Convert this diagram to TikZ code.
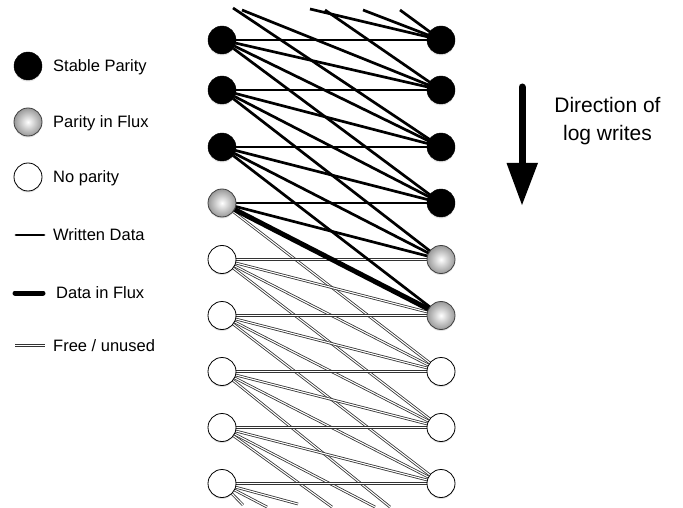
\documentclass[tikz,border=0pt]{standalone}
\usepackage{fontspec}
\setmainfont{Liberation Sans}
\usetikzlibrary{backgrounds,shadows}
\begin{document}
\begin{tikzpicture}[x=1pt,y=-1pt,
  pnode/.style={circle, minimum size=28pt, inner sep=0pt,
    drop shadow={opacity=0.22, shadow xshift=0pt, shadow yshift=-1.5pt}},
  stab/.style={pnode, fill=black, draw=black},
  flux/.style={pnode, draw=black!75, line width=0.8pt, shading=radial,
    inner color=white, outer color=black!40},
  nop/.style={pnode, fill=white, draw=black, line width=0.8pt},
  wdata/.style={line width=2.7pt, draw=black},
  fdata/.style={line width=5pt, draw=black},
  free/.style={draw=black!80, line width=0.8pt, double=white, double distance=1.1pt},
  lab/.style={anchor=west, inner sep=0pt, text height=11.5pt, text depth=0pt,
    font=\fontsize{16.5}{19}\selectfont},
  dirlab/.style={anchor=base, inner sep=0pt, font=\fontsize{21}{25}\selectfont}
]
\useasboundingbox (0,0) rectangle (683,508);

% ---- main columns ----
\node[stab] (L1) at (222,40) {};
\node[stab] (L2) at (222,90) {};
\node[stab] (L3) at (222,147) {};
\node[flux] (L4) at (222,203) {};
\node[nop]  (L5) at (222,259.5) {};
\node[nop]  (L6) at (222,315.5) {};
\node[nop]  (L7) at (222,371.5) {};
\node[nop]  (L8) at (222,427.5) {};
\node[nop]  (L9) at (222,483.5) {};

\node[stab] (R1) at (441,40) {};
\node[stab] (R2) at (441,90) {};
\node[stab] (R3) at (441,147) {};
\node[stab] (R4) at (441,203) {};
\node[flux] (R5) at (441,259.5) {};
\node[flux] (R6) at (441,315.5) {};
\node[nop]  (R7) at (441,371.5) {};
\node[nop]  (R8) at (441,427.5) {};
\node[nop]  (R9) at (441,483.5) {};

% free ends of cut-off connectors
\coordinate (t1) at (310,9);
\coordinate (t2) at (363,10);
\coordinate (t3) at (400,10);
\coordinate (t4) at (242,10);
\coordinate (t5) at (325,10);
\coordinate (t6) at (233,8);
\coordinate (b1) at (390,507);
\coordinate (b2) at (375,507);
\coordinate (b3) at (332,507);
\coordinate (b4) at (298,504);
\coordinate (b5) at (267,507);
\coordinate (b6) at (243,505);

\begin{scope}[on background layer]
  \foreach \a/\b in {L4/R7,
                     L5/R5, L5/R6, L5/R7, L5/R8,
                     L6/R6, L6/R7, L6/R8, L6/R9,
                     L7/R7, L7/R8, L7/R9, L7/b1,
                     L8/R8, L8/R9, L8/b2, L8/b3,
                     L9/R9, L9/b4, L9/b5, L9/b6}
    \draw[free] (\a.center) -- (\b.center);
  \foreach \a/\b in {t1/R1, t2/R1, t3/R1, t4/R2, t5/R2, t6/R3,
                     L1/R1, L1/R2, L1/R3, L1/R4,
                     L2/R2, L2/R3, L2/R4, L2/R5,
                     L3/R3, L3/R4, L3/R5, L3/R6,
                     L4/R4, L4/R5}
    \draw[wdata] (\a.center) -- (\b.center);
  \draw[fdata] (L4.center) -- (R6.center);
\end{scope}

% ---- legend ----
\node[stab] (k1) at (28,66) {};
\node[lab] (k1t) at (53,66) {Stable Parity};
\node[flux] (k2) at (28,122) {};
\node[lab] (k2t) at (53,122) {Parity in Flux};
\node[nop] (k3) at (28,177) {};
\node[lab] (k3t) at (53,177) {No parity};
\coordinate (w1) at (16,235);
\coordinate (w2) at (44,235);
\draw[wdata, line cap=round] (w1) -- (w2);
\node[lab] (k4t) at (53,235) {Written Data};
\coordinate (f1) at (15,293);
\coordinate (f2) at (43,293);
\draw[fdata, line cap=round] (f1) -- (f2);
\node[lab] (k5t) at (56,293) {Data in Flux};
\coordinate (u1) at (15,345.5);
\coordinate (u2) at (45,345.5);
\draw[free] (u1) -- (u2);
\node[lab] (k6t) at (53,346) {Free / unused};

% ---- direction arrow ----
\coordinate (a1) at (522,87);
\coordinate (a2) at (522,166);
\draw[line width=7pt, line cap=round] (a1) -- (a2);
\fill (506.5,163) -- (538,163) -- (522,205) -- cycle;
\node[dirlab] (d1) at (607.5,112.5) {Direction of};
\node[dirlab] (d2) at (607.5,140.5) {log writes};
\end{tikzpicture}
\end{document}
